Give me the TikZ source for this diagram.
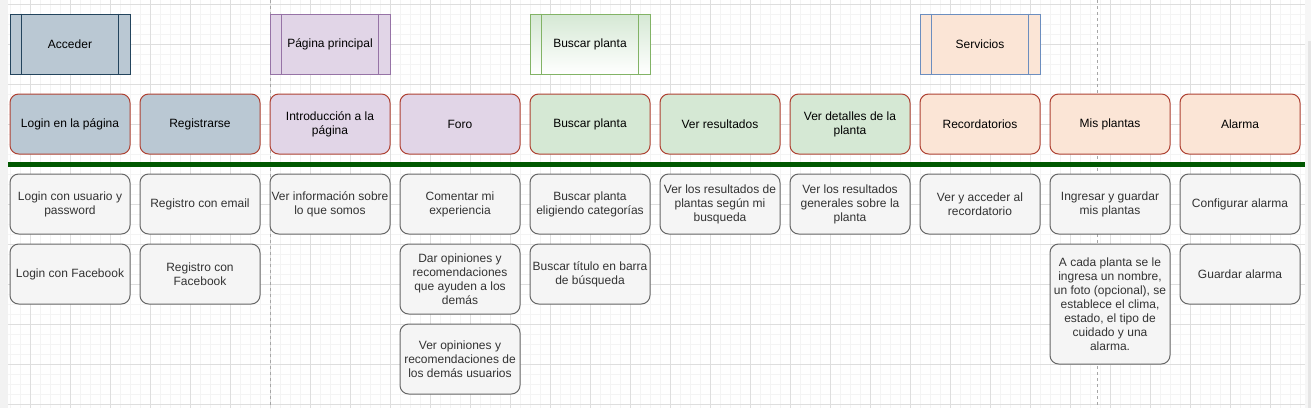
\documentclass[tikz,border=0pt]{standalone}
\usepackage{fontspec}
\setmainfont{Liberation Sans}
\definecolor{accF}{HTML}{BAC8D3}\definecolor{accD}{HTML}{23445D}
\definecolor{pagF}{HTML}{E1D5E7}\definecolor{pagD}{HTML}{9673A6}
\definecolor{busF}{HTML}{D5E8D4}\definecolor{busD}{HTML}{82B366}
\definecolor{serF}{HTML}{FBE5D6}\definecolor{serD}{HTML}{6C8EBF}
\definecolor{redD}{HTML}{AE4132}
\definecolor{grF}{HTML}{F5F5F5}\definecolor{grD}{HTML}{666666}\definecolor{grT}{HTML}{333333}
\definecolor{lineG}{HTML}{005700}
\definecolor{gridMaj}{HTML}{DEDEDE}\definecolor{gridMin}{HTML}{F4F4F4}
\begin{document}
\begin{tikzpicture}[x=0.75pt,y=-0.75pt,
  txt/.style={font=\fontsize{9}{10.5}\selectfont},
  procbox/.style={draw, line width=0.75pt, minimum width=90pt, minimum height=45pt, align=center, inner sep=0pt, txt},
  rbox/.style={draw, line width=0.75pt, rounded corners=6.5pt, minimum width=90pt, minimum height=45pt, align=center, inner sep=0pt, txt},
  headbox/.style={rbox, draw=redD},
  subbox/.style={rbox, draw=grD, fill=grF, text=grT}]
\useasboundingbox (0,0) rectangle (1311,408);
% background grid
\fill[white] (8,0) rectangle (1305,408);
\foreach \x in {10,20,...,1300} \draw[gridMin, line width=0.75pt] (\x,0) -- (\x,408);
\foreach \y in {4,14,...,404} \draw[gridMin, line width=0.75pt] (8,\y) -- (1305,\y);
\foreach \x in {30,70,...,1300} \draw[gridMaj, line width=0.75pt] (\x,0) -- (\x,408);
\foreach \y in {4,44,...,404} \draw[gridMaj, line width=0.75pt] (8,\y) -- (1305,\y);
\draw[gray!70, line width=0.75pt, dash pattern=on 2.25pt off 2.25pt] (270,0) -- (270,408);
\draw[gray!70, line width=0.75pt, dash pattern=on 2.25pt off 2.25pt] (1097,0) -- (1097,408);
% side strips
\fill[gray!10] (0,0) rectangle (8,408);
\fill[blue!2!gray!7] (1305,0) rectangle (1311,408);
\fill[gray!20] (1308,41) rectangle (1311,408);
% top process boxes
\node[procbox, draw=accD, fill=accF] (acc) at (70,44) {Acceder};
\node[procbox, draw=pagD, fill=pagF] (pag) at (330,44) {Página principal};
\node[procbox, draw=busD, top color=busF, bottom color=white] (bus) at (590,44) {Buscar planta};
\node[procbox, draw=serD, fill=serF] (ser) at (980,44) {Servicios};
\foreach \n/\c in {acc/accD,pag/pagD,bus/busD,ser/serD}{
  \draw[\c, line width=0.75pt] ([xshift=9pt]\n.north west) -- ([xshift=9pt]\n.south west);
  \draw[\c, line width=0.75pt] ([xshift=-9pt]\n.north east) -- ([xshift=-9pt]\n.south east);
}
% second row
\node[headbox, fill=accF] (h1) at (70,124) {Login en la página};
\node[headbox, fill=accF] (h2) at (200,124) {Registrarse};
\node[headbox, fill=pagF] (h3) at (330,124) {Introducción a la\\página};
\node[headbox, fill=pagF] (h4) at (460,124) {Foro};
\node[headbox, fill=busF] (h5) at (590,124) {Buscar planta};
\node[headbox, fill=busF] (h6) at (720,124) {Ver resultados};
\node[headbox, fill=busF] (h7) at (850,124) {Ver detalles de la\\planta};
\node[headbox, fill=serF] (h8) at (980,124) {Recordatorios};
\node[headbox, fill=serF] (h9) at (1110,124) {Mis plantas};
\node[headbox, fill=serF] (h10) at (1240,124) {Alarma};
% green separator
\coordinate (gl) at (8,164.5);
\coordinate (gr) at (1305,164.5);
\draw[lineG, line width=3.75pt] (gl) -- (gr);
% third row
\node[subbox] (s1) at (70,204) {Login con usuario y\\password};
\node[subbox] (s2) at (200,204) {Registro con email};
\node[subbox] (s3) at (330,204) {Ver información sobre\\lo que somos};
\node[subbox] (s4) at (460,204) {Comentar mi\\experiencia};
\node[subbox] (s5) at (590,204) {Buscar planta\\eligiendo categorías};
\node[subbox] (s6) at (720,204) {Ver los resultados de\\plantas según mi\\busqueda};
\node[subbox] (s7) at (850,204) {Ver los resultados\\generales sobre la\\planta};
\node[subbox] (s8) at (980,204) {Ver y acceder al\\recordatorio};
\node[subbox] (s9) at (1110,204) {Ingresar y guardar\\mis plantas};
\node[subbox] (s10) at (1240,204) {Configurar alarma};
% fourth row
\node[subbox] (t1) at (70,274) {Login con Facebook};
\node[subbox] (t2) at (200,274) {Registro con\\Facebook};
\node[subbox, minimum height=52.5pt] (t4) at (460,279) {Dar opiniones y\\recomendaciones\\que ayuden a los\\demás};
\node[subbox] (t5) at (590,274) {Buscar título en barra\\de búsqueda};
\node[subbox, minimum height=90pt] (t9) at (1110,304) {A cada planta se le\\ingresa un nombre,\\un foto (opcional), se\\establece el clima,\\estado, el tipo de\\cuidado y una\\alarma.};
\node[subbox] (t10) at (1240,274) {Guardar alarma};
% fifth row
\node[subbox, minimum height=52.5pt] (u4) at (460,359) {Ver opiniones y\\recomendaciones de\\los demás usuarios};
\end{tikzpicture}
\end{document}
